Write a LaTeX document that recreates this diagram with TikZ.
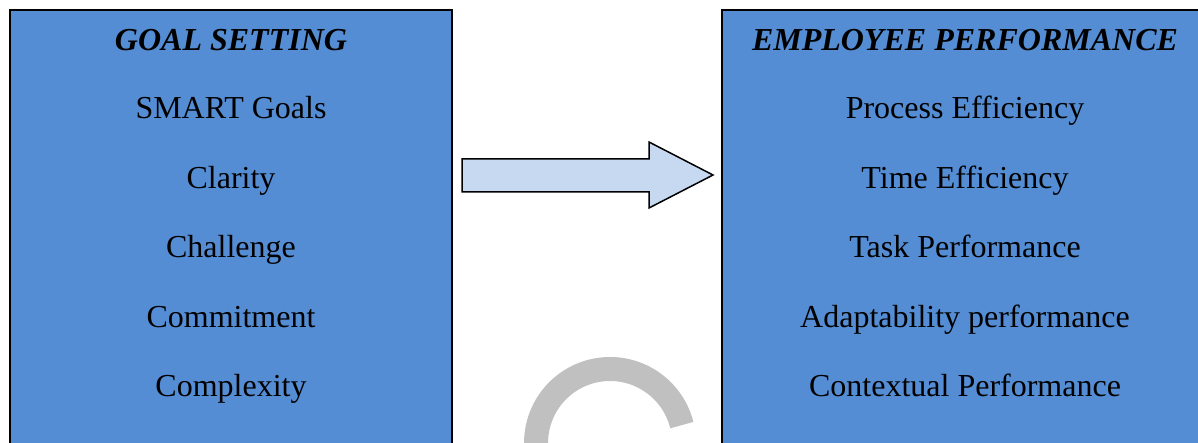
\documentclass[tikz,border=0pt]{standalone}
\usepackage{fontspec}
\setmainfont{Liberation Serif}
\definecolor{boxblue}{HTML}{548DD4}
\definecolor{arrowblue}{HTML}{C6D9F1}
\definecolor{wmgray}{HTML}{C0C0C0}
\begin{document}
\begin{tikzpicture}[x=1pt,y=1pt,
  panel/.style={draw=black,line width=2pt,fill=boxblue},
  item/.style={anchor=base,inner sep=0pt,font=\fontsize{32}{36}\selectfont},
  ttl/.style={anchor=base,inner sep=0pt,font=\fontsize{32}{36}\selectfont\bfseries\itshape},
  blockarrow/.style={draw=black,line width=1.5pt,fill=arrowblue,line join=miter}]
\useasboundingbox (0,0) rectangle (1198,442);
\fill[white] (0,0) rectangle (1198,442);
\begin{scope}
\clip (0,0) rectangle (1198,442);
\draw[panel] (10,432) rectangle (452,-20);
\draw[panel] (722,432) rectangle (1215,-20);
\draw[wmgray,line width=24pt] ([shift={(14:74)}]610,-1) arc[start angle=14,end angle=200,radius=74];
\end{scope}
\draw[blockarrow] (462,283) -- (649,283) -- (649,300) -- (713,267) -- (649,234) -- (649,250) -- (462,250) -- cycle;
% left column
\node[ttl]  (gs)  at (231,391) {GOAL SETTING};
\node[item] (g1)  at (231,323) {SMART Goals};
\node[item] (g2)  at (231,253) {Clarity};
\node[item] (g3)  at (231,185) {Challenge};
\node[item] (g4)  at (231,115) {Commitment};
\node[item] (g5)  at (231,46)  {Complexity};
% right column
\node[ttl]  (ep)  at (965,391) {EMPLOYEE PERFORMANCE};
\node[item] (e1)  at (965,323) {Process Efficiency};
\node[item] (e2)  at (965,253) {Time Efficiency};
\node[item] (e3)  at (965,185) {Task Performance};
\node[item] (e4)  at (965,115) {Adaptability performance};
\node[item] (e5)  at (965,46)  {Contextual Performance};
\end{tikzpicture}
\end{document}
